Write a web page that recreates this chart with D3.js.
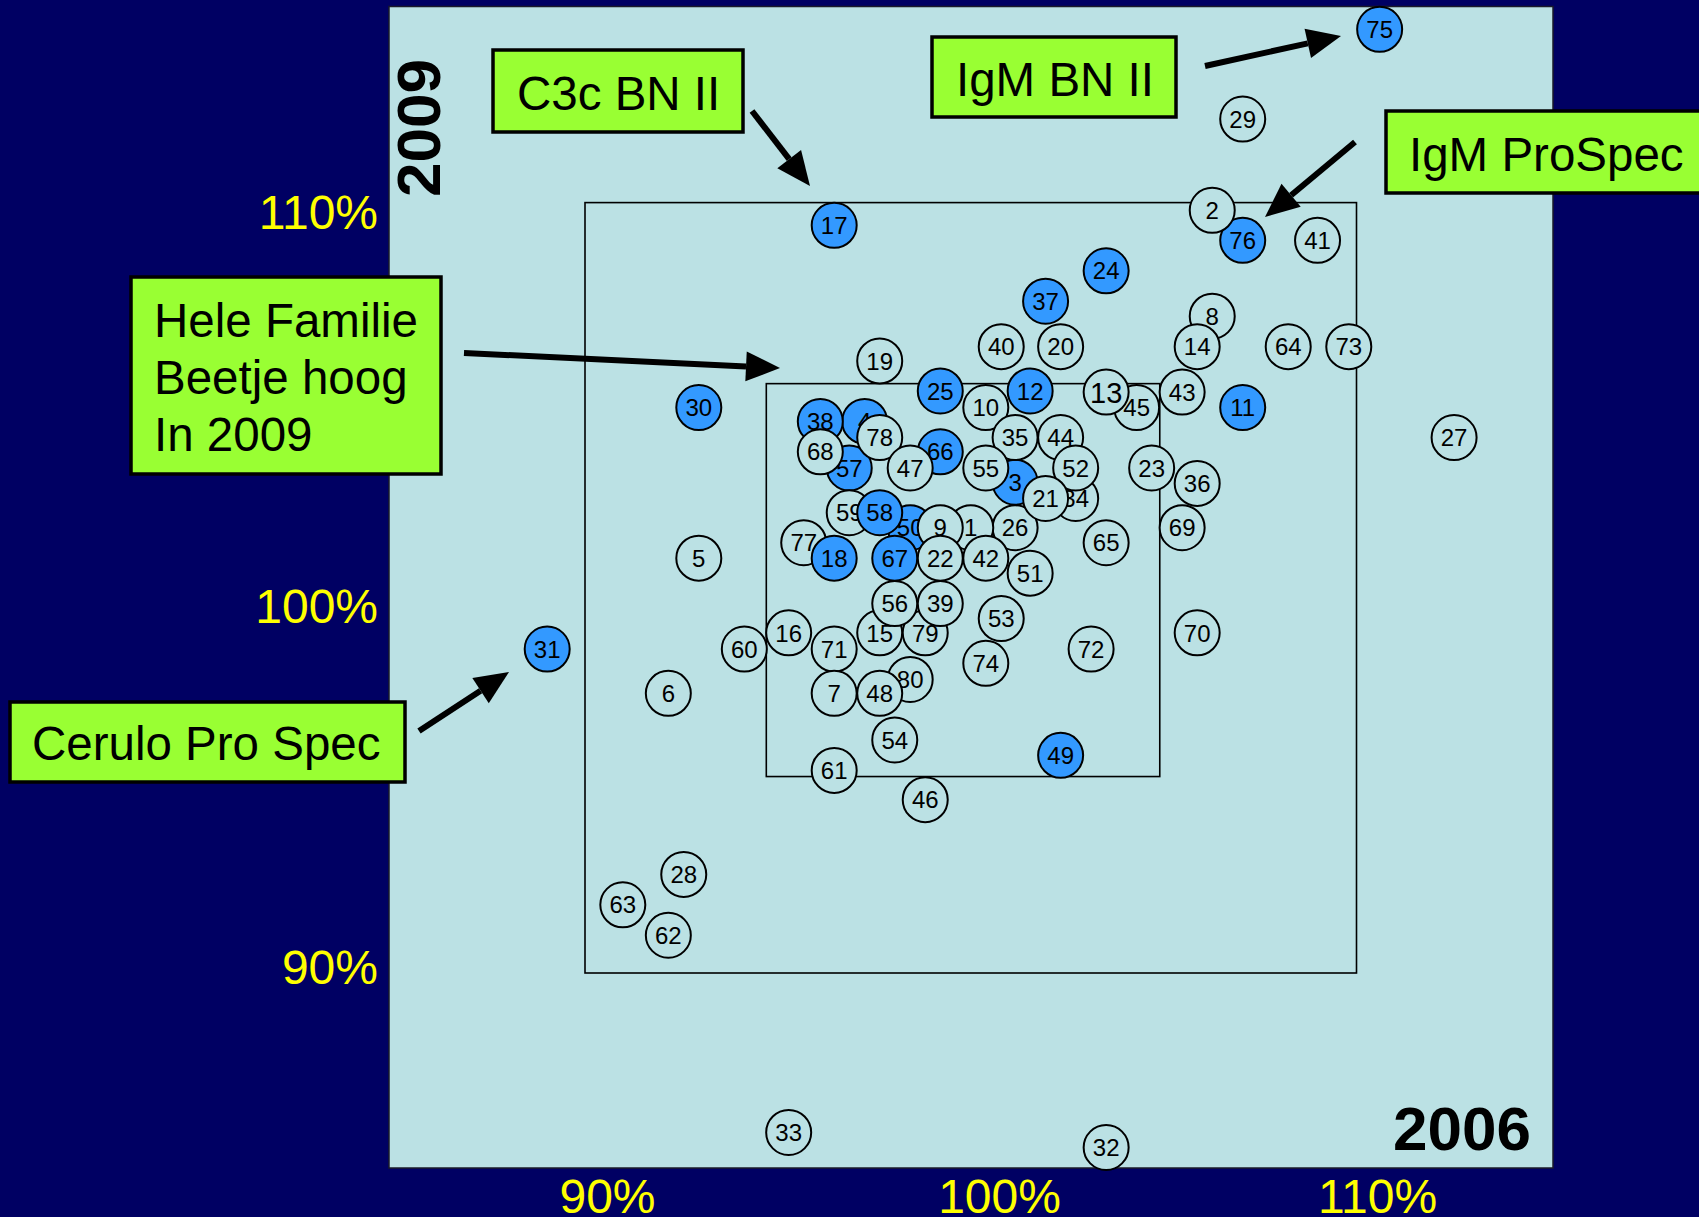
<!DOCTYPE html>
<html><head><meta charset="utf-8">
<script src="https://cdn.jsdelivr.net/npm/d3@7"></script>
<style>
html,body{margin:0;padding:0;background:#000063;overflow:hidden}
svg{display:block;font-family:"Liberation Sans",Arial,Helvetica,sans-serif}
</style></head><body>
<svg id="chart" width="1699" height="1217"></svg>
<script>
// ---- data (percent of target, 2006 on x, 2009 on y) ----
const ids = [75,29,76,2,41,17,24,37,8,14,64,73,40,20,19,25,12,10,45,13,43,11,30,27,4,38,57,66,78,68,47,3,35,44,55,34,52,26,21,23,36,59,50,58,1,9,65,69,77,18,67,22,42,51,5,15,79,56,39,53,16,60,71,70,72,74,31,6,7,80,48,54,49,61,46,28,63,62,33,32];
const x2006 = [110.6,107.05,107.05,106.26,108.99,96.46,103.51,101.94,106.26,105.87,108.23,109.8,100.79,102.33,97.64,99.21,101.54,100.39,104.3,103.51,105.48,107.05,92.95,112.53,97.25,96.1,96.85,99.21,97.64,96.1,98.43,101.15,101.15,102.33,100.39,102.72,102.72,101.15,101.94,104.69,105.87,96.85,98.43,97.64,100.0,99.21,103.51,105.48,95.67,96.46,98.03,99.21,100.39,101.54,92.95,97.64,98.82,98.03,99.21,100.79,95.28,94.13,96.46,105.87,103.12,100.39,89.02,92.16,96.46,98.43,97.64,98.03,102.33,96.46,98.82,92.56,90.98,92.16,95.28,103.51];
const y2009 = [114.5,112.17,109.02,109.8,109.02,109.41,108.23,107.44,107.05,106.26,106.26,106.26,106.26,106.26,105.89,105.11,105.11,104.68,104.68,105.08,105.08,104.68,104.68,103.9,104.32,104.32,103.11,103.53,103.9,103.53,103.11,102.74,103.9,103.9,103.11,102.32,103.11,101.56,102.32,103.11,102.71,101.95,101.56,101.95,101.56,101.56,101.17,101.56,101.17,100.77,100.77,100.77,100.77,100.38,100.77,98.83,98.83,99.59,99.59,99.2,98.83,98.41,98.41,98.83,98.41,98.04,98.41,97.26,97.26,97.62,97.26,96.05,95.65,95.26,94.5,92.56,91.77,90.98,85.86,85.47];
const highlighted = [75,76,17,24,37,25,12,11,30,38,4,66,57,3,58,50,18,67,31,49];
const tickValues = [90,100,110];
const outerBoxX = [90,110], outerBoxY = [90,110];
const innerBoxX = [94.7,104.9], innerBoxY = [95.1,105.3];
const yearY = "2009", yearX = "2006";
const noteTexts = [["C3c BN II"],["IgM BN II"],["IgM ProSpec"],["Hele Familie","Beetje hoog","In 2009"],["Cerulo Pro Spec"]];

// ---- layout ----
const svg = d3.select("#chart");
const W = 1699, H = 1217;
svg.append("rect").attr("width",W).attr("height",H).attr("fill","#000063");

const plot = {x0:389, x1:1553, y0:6.5, y1:1168};
svg.append("rect").attr("x",plot.x0).attr("y",plot.y0)
  .attr("width",plot.x1-plot.x0).attr("height",plot.y1-plot.y0)
  .attr("fill","#bbe1e4").attr("stroke","#1a1a2a").attr("stroke-width",1.5);

const x = d3.scaleLinear().domain([90,110]).range([585,1356.5]);
const y = d3.scaleLinear().domain([90,110]).range([973,202.6]);

// label scales (tick labels placed as on the slide)
const tx = d3.scaleLinear().domain(tickValues).range([607,999,1377]);
const ty = d3.scaleLinear().domain(tickValues).range([968,607,213]);

function box(bx,by){
  svg.append("rect").attr("x",x(bx[0])).attr("y",y(by[1]))
    .attr("width",x(bx[1])-x(bx[0])).attr("height",y(by[0])-y(by[1]))
    .attr("fill","none").attr("stroke","#000").attr("stroke-width",1.6);
}
box(outerBoxX,outerBoxY);
box(innerBoxX,innerBoxY);

// axes
const ax = svg.append("g").attr("transform","translate(0,1179)")
  .call(d3.axisBottom(tx).tickValues(tickValues).tickFormat(d=>d+"%").tickSize(0).tickPadding(0));
const ay = svg.append("g").attr("transform","translate(378,0)")
  .call(d3.axisLeft(ty).tickValues(tickValues).tickFormat(d=>d+"%").tickSize(0).tickPadding(0));
[ax,ay].forEach(g=>{
  g.select(".domain").remove();
  g.selectAll("text").attr("fill","#ffff00").attr("font-size",48)
   .attr("font-family","'Liberation Sans',Arial,sans-serif");
});

// year labels
svg.append("text").attr("transform","translate(440,128) rotate(-90)")
  .attr("text-anchor","middle").attr("font-size",62).attr("font-weight","bold").text(yearY);
svg.append("text").attr("x",1531).attr("y",1150).attr("text-anchor","end")
  .attr("font-size",62).attr("font-weight","bold").text(yearX);

// points
const pts = ids.map((id,i)=>({id, xv:x2006[i], yv:y2009[i], hi:highlighted.includes(id)}));
const g = svg.append("g");
const pg = g.selectAll("g.pt").data(pts).join("g").attr("class","pt")
  .attr("transform",d=>`translate(${x(d.xv)},${y(d.yv)})`);
pg.append("circle").attr("r",22.5)
  .attr("fill",d=>d.hi?"#3399ff":"#bbe1e4").attr("stroke","#000").attr("stroke-width",2);
pg.append("text").attr("text-anchor","middle").attr("dy","0.36em")
  .attr("font-size",d=>d.id===13?29:24).text(d=>d.id);

// annotation boxes
const noteLayout = [
  {x:493,y:50,w:250,h:82,tx:517,ty:[110]},
  {x:932,y:37,w:244,h:80,tx:956,ty:[96]},
  {x:1386,y:111,w:330,h:82,tx:1409,ty:[171]},
  {x:131,y:277,w:310,h:197,tx:154,ty:[337,394,451]},
  {x:10,y:702,w:395,h:80,tx:32,ty:[760]}
];
noteTexts.forEach((lines,i)=>{
  const L = noteLayout[i];
  svg.append("rect").attr("x",L.x).attr("y",L.y).attr("width",L.w).attr("height",L.h)
    .attr("fill","#99ff33").attr("stroke","#000").attr("stroke-width",3.5);
  lines.forEach((t,j)=>{
    svg.append("text").attr("x",L.tx).attr("y",L.ty[j]).attr("font-size",47.5).text(t);
  });
});

// arrows
const arrows = [
  [752,111,810,186],[1205,66,1341,36],[1355,142,1265,217],[464,353,780,368],[419,731,509,672]
];
arrows.forEach(([x1,y1,x2,y2])=>{
  const a = Math.atan2(y2-y1,x2-x1), len = 34, hw = 15;
  const bx = x2-len*Math.cos(a), by = y2-len*Math.sin(a);
  svg.append("line").attr("x1",x1).attr("y1",y1).attr("x2",bx).attr("y2",by)
    .attr("stroke","#000").attr("stroke-width",6);
  const p = [[x2,y2],[bx+hw*Math.sin(a),by-hw*Math.cos(a)],[bx-hw*Math.sin(a),by+hw*Math.cos(a)]];
  svg.append("polygon").attr("points",p.map(q=>q.join(",")).join(" ")).attr("fill","#000");
});
</script>
</body></html>
